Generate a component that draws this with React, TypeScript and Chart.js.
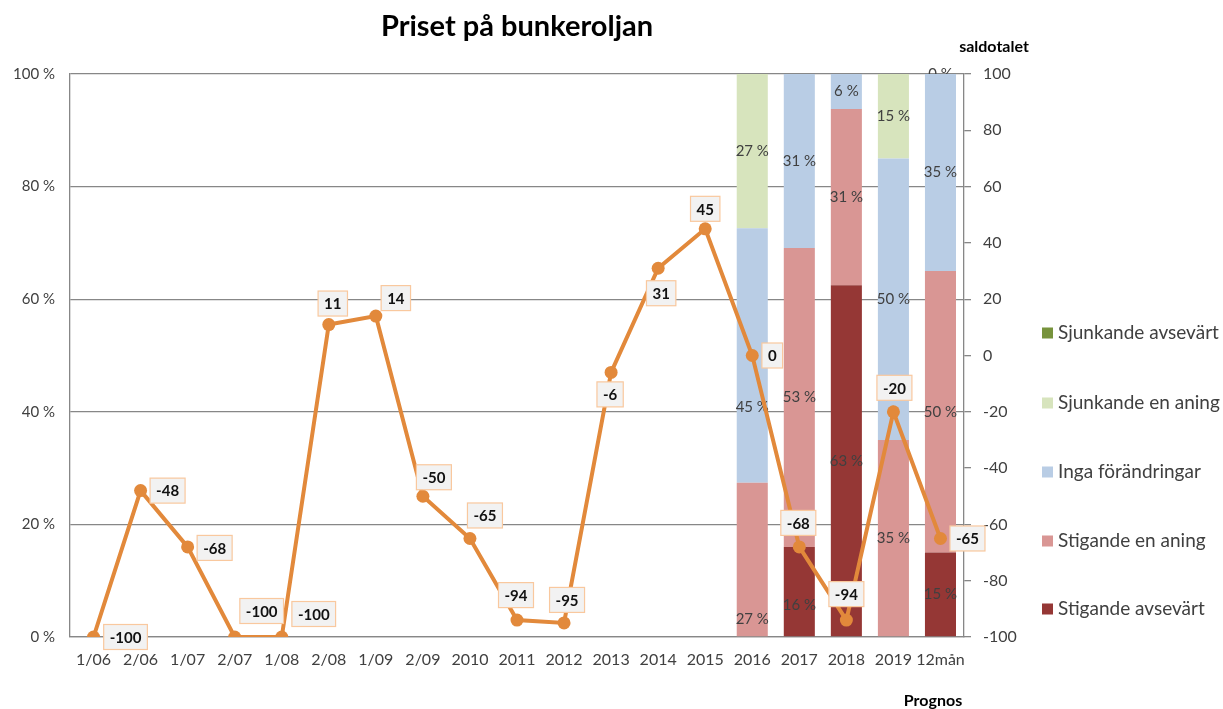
import React, { useEffect, useRef } from 'react';
import { Chart, registerables } from 'chart.js';

Chart.register(...registerables);

const FONT = 'Lato, "Open Sans", "DejaVu Sans", sans-serif';

const CATEGORIES = ['1/06', '2/06', '1/07', '2/07', '1/08', '2/08', '1/09', '2/09', '2010', '2011', '2012', '2013', '2014', '2015', '2016', '2017', '2018', '2019', '12mån'];

const SALDOTAL = [-100, -48, -68, -100, -100, 11, 14, -50, -65, -94, -95, -6, 31, 45, 0, -68, -94, -20, -65];

const STIGANDE_AVSEVART = [null, null, null, null, null, null, null, null, null, null, null, null, null, null, null, 16, 62.5, null, 15];
const STIGANDE_EN_ANING = [null, null, null, null, null, null, null, null, null, null, null, null, null, null, 27.4, 53.1, 31.3, 35, 50];
const INGA_FORANDRINGAR = [null, null, null, null, null, null, null, null, null, null, null, null, null, null, 45.2, 30.9, 6.2, 50, 35];
const SJUNKANDE_EN_ANING = [null, null, null, null, null, null, null, null, null, null, null, null, null, null, 27.4, null, null, 15, 0];
const SJUNKANDE_AVSEVART = [null, null, null, null, null, null, null, null, null, null, null, null, null, null, null, null, null, null, null];

const LEFT_TICKS = [0, 20, 40, 60, 80, 100];
const RIGHT_TICKS = [-100, -80, -60, -40, -20, 0, 20, 40, 60, 80, 100];

// label placement (style): offset of the label box centre from its point
const LINE_LABEL_OFFSETS = [[32, 0], [27, 0], [27, 1], [27, -26], [32, -23], [4, -21], [20, -18], [11, -19], [15, -23], [-1, -25], [3, -23], [-1, 22], [3, 25], [0, -20], [20, 0], [-1, -24], [0, -26], [1, -24], [27, 0]];
// manual vertical shifts of some bar labels (style)
const BAR_LABEL_SHIFT: Record<string, number> = {
  'Stigande en aning|2016': 60,
  'Inga förändringar|2016': 52,
  'Stigande avsevärt|2017': 14,
};

const BAR_SERIES = [
  { name: 'Stigande avsevärt', data: STIGANDE_AVSEVART, color: '#953735' },
  { name: 'Stigande en aning', data: STIGANDE_EN_ANING, color: '#D99694' },
  { name: 'Inga förändringar', data: INGA_FORANDRINGAR, color: '#B9CDE5' },
  { name: 'Sjunkande en aning', data: SJUNKANDE_EN_ANING, color: '#D7E4BD' },
  { name: 'Sjunkande avsevärt', data: SJUNKANDE_AVSEVART, color: '#77933C' },
];

const LINE_COLOR = '#E2893B';
const GRID = '#878787';
const TEXT = '#404040';

const overlay = {
  id: 'overlay',
  afterDatasetDraw(chart: any, args: any) {
    const ds = chart.data.datasets[args.index];
    if (ds.type !== 'bar') return;
    const ctx = chart.ctx;
    ctx.save();
    ctx.font = `15px ${FONT}`;
    ctx.fillStyle = TEXT;
    ctx.textAlign = 'center';
    ctx.textBaseline = 'middle';
    args.meta.data.forEach((el: any, i: number) => {
      const v = ds.data[i];
      if (v === null || v === undefined) return;
      const shift = BAR_LABEL_SHIFT[`${ds.label}|${CATEGORIES[i]}`] || 0;
      const cy = (el.y + el.base) / 2 + shift;
      ctx.fillText(`${Math.round(v)} %`, el.x, cy);
    });
    ctx.restore();
  },
  afterDatasetsDraw(chart: any) {
    const ctx = chart.ctx;
    const idx = chart.data.datasets.findIndex((d: any) => d.type === 'line');
    const meta = chart.getDatasetMeta(idx);
    ctx.save();
    ctx.font = `bold 15px ${FONT}`;
    ctx.textAlign = 'center';
    ctx.textBaseline = 'middle';
    meta.data.forEach((pt: any, i: number) => {
      const txt = String(SALDOTAL[i]);
      const [dx, dy] = LINE_LABEL_OFFSETS[i];
      const w = ctx.measureText(txt).width + 12;
      const h = 25;
      const cx = pt.x + dx;
      const cy = pt.y + dy;
      ctx.fillStyle = '#F2F2F2';
      ctx.fillRect(cx - w / 2, cy - h / 2, w, h);
      ctx.strokeStyle = '#F9C89E';
      ctx.lineWidth = 1.2;
      ctx.strokeRect(cx - w / 2, cy - h / 2, w, h);
      ctx.fillStyle = '#111';
      ctx.fillText(txt, cx, cy + 1);
    });
    ctx.restore();
  },
  afterDraw(chart: any) {
    const ctx = chart.ctx;
    const area = chart.chartArea;
    ctx.save();
    ctx.fillStyle = '#000';
    ctx.textAlign = 'center';
    ctx.textBaseline = 'middle';
    ctx.font = `bold 29px ${FONT}`;
    ctx.fillText('Priset på bunkeroljan', (area.left + area.right) / 2, 27);
    ctx.font = `bold 16px ${FONT}`;
    ctx.fillText('saldotalet', 994, 47);
    ctx.fillText('Prognos', 933, 701);
    // legend (top to bottom: reverse stacking order)
    const items = [...BAR_SERIES].reverse();
    const ys = [333, 403, 472, 541, 609];
    ctx.textAlign = 'left';
    ctx.font = `19px ${FONT}`;
    items.forEach((s, i) => {
      ctx.fillStyle = s.color;
      ctx.fillRect(1042, ys[i] - 5.5, 11, 11);
      ctx.fillStyle = TEXT;
      ctx.fillText(s.name, 1058, ys[i]);
    });
    ctx.restore();
  },
};

export default function App() {
  const ref = useRef<HTMLCanvasElement>(null);
  useEffect(() => {
    const datasets: any[] = [
      {
        type: 'line',
        label: 'Saldotal',
        data: SALDOTAL,
        yAxisID: 'y1',
        borderColor: LINE_COLOR,
        backgroundColor: LINE_COLOR,
        borderWidth: 4,
        pointRadius: 6.5,
        pointBackgroundColor: LINE_COLOR,
        pointBorderWidth: 0,
        tension: 0,
        order: 0,
      },
      ...BAR_SERIES.map((s) => ({
        type: 'bar',
        label: s.name,
        data: s.data,
        backgroundColor: s.color,
        yAxisID: 'y',
        categoryPercentage: 1,
        barPercentage: 0.66,
        order: 1,
      })),
    ];
    const chart = new Chart(ref.current as HTMLCanvasElement, {
      type: 'bar',
      data: { labels: CATEGORIES, datasets },
      options: {
        responsive: false,
        animation: false,
        devicePixelRatio: 1,
        layout: { padding: { top: 74, left: 0, right: 0, bottom: 0 } },
        plugins: { legend: { display: false }, tooltip: { enabled: false }, title: { display: false } },
        scales: {
          x: {
            stacked: true,
            offset: true,
            grid: { display: false, drawTicks: false },
            border: { display: true, color: GRID, width: 1.3 },
            ticks: { font: { family: FONT, size: 16 }, color: TEXT, padding: 13, maxRotation: 0, autoSkip: false },
            afterFit: (s: any) => { s.height = 72; },
          },
          y: {
            stacked: true,
            position: 'left',
            min: 0,
            max: 100,
            afterBuildTicks: (s: any) => { s.ticks = LEFT_TICKS.map((v) => ({ value: v })); },
            ticks: { callback: (v: any) => `${v} %`, padding: 15, font: { family: FONT, size: 15 }, color: TEXT },
            grid: { color: GRID, lineWidth: 1.3, drawTicks: false },
            border: { display: true, color: GRID, width: 1.3 },
            afterFit: (s: any) => { s.width = 70; },
          },
          y1: {
            position: 'right',
            min: -100,
            max: 100,
            afterBuildTicks: (s: any) => { s.ticks = RIGHT_TICKS.map((v) => ({ value: v })); },
            ticks: { padding: 12, font: { family: FONT, size: 16 }, color: TEXT },
            grid: { drawOnChartArea: false, drawTicks: true, tickLength: 7, color: GRID, lineWidth: 1.3 },
            border: { display: true, color: GRID, width: 1.3 },
            afterFit: (s: any) => { s.width = 259; },
          },
        },
      } as any,
      plugins: [overlay],
    });
    return () => chart.destroy();
  }, []);
  return (
    <div style={{ position: 'absolute', left: 0, top: 0, width: 1223, height: 709, background: '#fff' }}>
      <canvas ref={ref} width={1223} height={709} style={{ display: 'block', width: 1223, height: 709 }} />
    </div>
  );
}
